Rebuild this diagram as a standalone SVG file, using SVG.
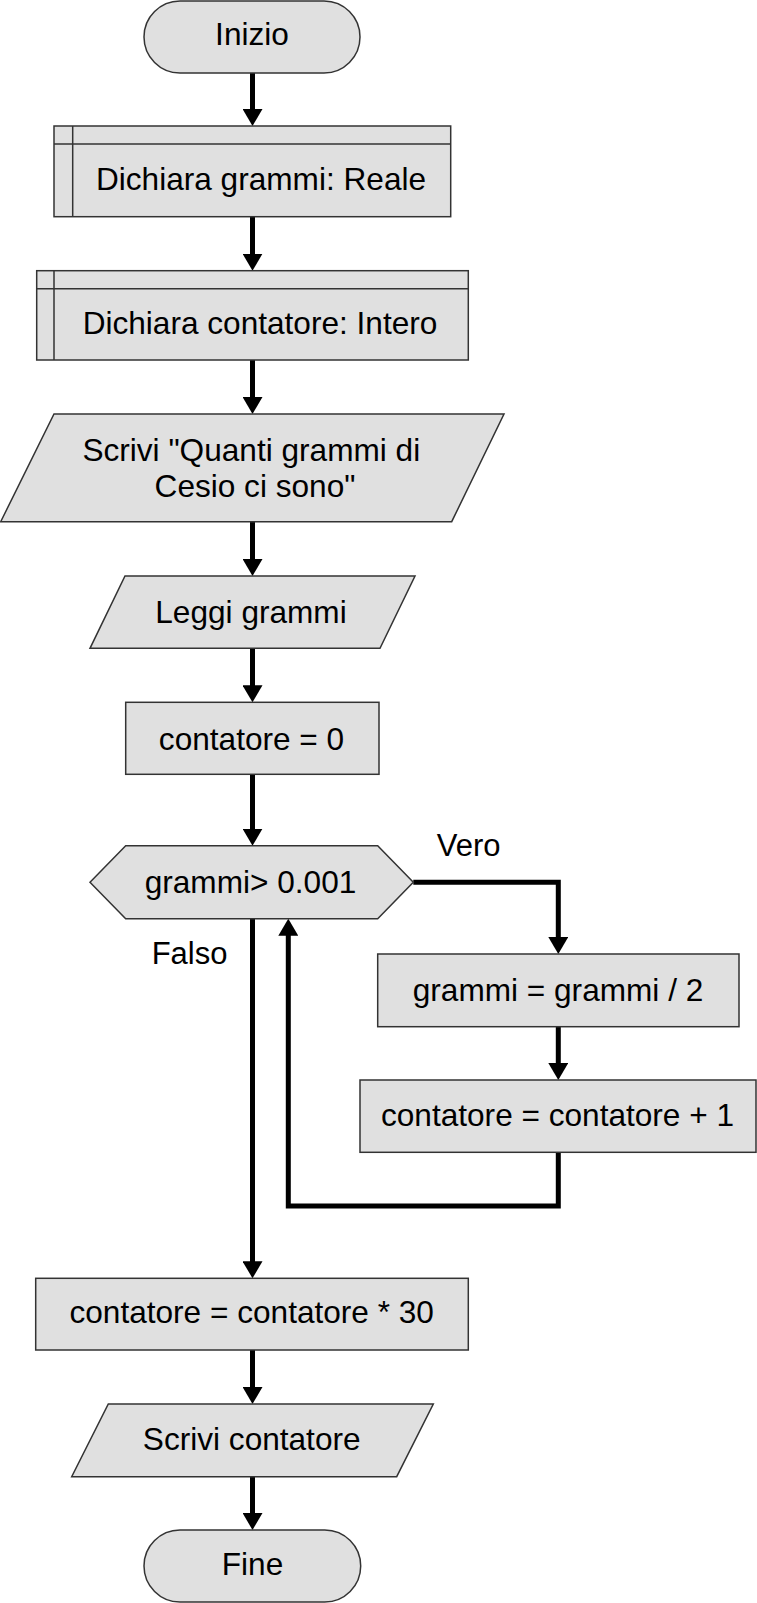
<svg xmlns="http://www.w3.org/2000/svg" width="757" height="1603" viewBox="0 0 757 1603">
<style>
.s{fill:#e0e0e0;stroke:#333;stroke-width:1.5}
.d{fill:none;stroke:#333;stroke-width:1.5}
.t{font-family:"Liberation Sans",Arial,sans-serif;font-size:31.6px;fill:#000;text-anchor:middle}
.l{font-family:"Liberation Sans",Arial,sans-serif;font-size:31px;fill:#000}
.c{fill:none;stroke:#000;stroke-width:5;stroke-linejoin:miter}
</style>
<defs>
<marker id="ah" viewBox="0 0 17 20" refX="7" refY="10" markerWidth="17" markerHeight="20" markerUnits="userSpaceOnUse" orient="auto">
<path d="M0,0 L17,10 L0,20 z" fill="#000"/>
</marker>
</defs>
<g id="connectors">
<path class="c" d="M252.5,73 V116" marker-end="url(#ah)"/>
<path class="c" d="M252.5,216.7 V260.7" marker-end="url(#ah)"/>
<path class="c" d="M252.5,360 V404" marker-end="url(#ah)"/>
<path class="c" d="M252.5,521.7 V566" marker-end="url(#ah)"/>
<path class="c" d="M252.5,648.3 V692.3" marker-end="url(#ah)"/>
<path class="c" d="M252.5,774.3 V835.7" marker-end="url(#ah)"/>
<path class="c" d="M413.3,882.3 H558.3 V944" marker-end="url(#ah)"/>
<path class="c" d="M558.3,1026.7 V1070" marker-end="url(#ah)"/>
<path class="c" d="M558.3,1152.3 V1206 H288.3 V928.7" marker-end="url(#ah)"/>
<path class="c" d="M252.5,918.7 V1268.3" marker-end="url(#ah)"/>
<path class="c" d="M252.5,1350 V1394" marker-end="url(#ah)"/>
<path class="c" d="M252.5,1476.7 V1520" marker-end="url(#ah)"/>
</g>
<g id="inizio">
<rect class="s" x="144" y="1" width="216" height="72" rx="36" ry="36"/>
<text class="t" x="252" y="45">Inizio</text>
</g>
<g id="dichiara-grammi">
<rect class="s" x="54" y="126" width="396.7" height="90.7"/>
<path class="d" d="M54,144 H450.7 M72.7,126 V216.7"/>
<text class="t" x="261" y="190">Dichiara grammi: Reale</text>
</g>
<g id="dichiara-contatore">
<rect class="s" x="36.7" y="270.7" width="431.6" height="89.3"/>
<path class="d" d="M36.7,288.7 H468.3 M54,270.7 V360"/>
<text class="t" x="260" y="333.5">Dichiara contatore: Intero</text>
</g>
<g id="scrivi-domanda">
<polygon class="s" points="54,414 504,414 451.7,521.7 0.7,521.7"/>
<text class="t" x="251.3" y="461">Scrivi "Quanti grammi di</text>
<text class="t" x="255" y="497">Cesio ci sono"</text>
</g>
<g id="leggi-grammi">
<polygon class="s" points="125,576 415,576 380,648.3 90,648.3"/>
<text class="t" x="251" y="623">Leggi grammi</text>
</g>
<g id="contatore-zero">
<rect class="s" x="125.7" y="702.3" width="253.3" height="72"/>
<text class="t" x="251.5" y="749.5">contatore = 0</text>
</g>
<g id="decisione">
<polygon class="s" points="90,882.3 125.7,845.7 377.7,845.7 413.3,882.3 377.7,918.7 125.7,918.7"/>
<text class="t" x="250.5" y="893">grammi&gt; 0.001</text>
</g>
<g id="labels">
<text class="l" x="436.7" y="856">Vero</text>
<text class="l" x="151.7" y="964">Falso</text>
</g>
<g id="grammi-diviso">
<rect class="s" x="377.7" y="954" width="361.3" height="72.7"/>
<text class="t" x="558" y="1001">grammi = grammi / 2</text>
</g>
<g id="contatore-piu">
<rect class="s" x="360" y="1080" width="396" height="72.3"/>
<text class="t" x="557.5" y="1126">contatore = contatore + 1</text>
</g>
<g id="contatore-per">
<rect class="s" x="35.7" y="1278.3" width="432.6" height="71.7"/>
<text class="t" x="251.7" y="1323">contatore = contatore * 30</text>
</g>
<g id="scrivi-contatore">
<polygon class="s" points="108.3,1404 433.3,1404 396.7,1476.7 71.7,1476.7"/>
<text class="t" x="251.7" y="1450">Scrivi contatore</text>
</g>
<g id="fine">
<rect class="s" x="144" y="1530" width="216.7" height="72" rx="36" ry="36"/>
<text class="t" x="252.5" y="1575">Fine</text>
</g>
</svg>
